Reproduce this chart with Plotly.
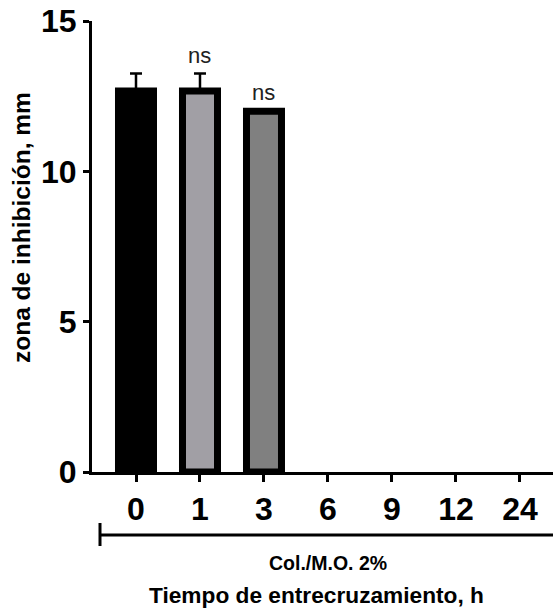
import plotly.graph_objects as go

# Crosslinking time groups and inhibition zone (mean, SD)
tiempos = ["0", "1", "3", "6", "9", "12", "24"]
zona_mm = [12.67, 12.67, 12.0, 0, 0, 0, 0]
desv_mm = [0.58, 0.58, 0.0, 0, 0, 0, 0]
significancia = ["", "ns", "ns", "", "", "", ""]
colores = ["#000000", "#a19fa5", "#808080", "#808080", "#808080", "#808080", "#808080"]

W, H = 553, 609
ML, MR, MT, MB = 92, 0, 21, 137
plot_w = W - ML - MR
plot_h = H - MT - MB

FONT = "Liberation Sans, Arial, sans-serif"

fig = go.Figure()
fig.add_trace(go.Bar(
    x=tiempos,
    y=zona_mm,
    width=0.547,
    marker=dict(
        color=colores,
        line=dict(color="black", width=[7 if v > 0 else 0 for v in zona_mm]),
    ),
    showlegend=False,
))

# upper SD whiskers, only where a spread exists
con_sd = [i for i, e in enumerate(desv_mm) if e > 0]
fig.add_trace(go.Scatter(
    x=[tiempos[i] for i in con_sd],
    y=[zona_mm[i] for i in con_sd],
    mode="markers", marker=dict(size=0.1, color="black"),
    error_y=dict(
        type="data", array=[desv_mm[i] for i in con_sd],
        arrayminus=[0] * len(con_sd), symmetric=False,
        color="black", thickness=2.5, width=6,
    ),
    showlegend=False, hoverinfo="skip",
))

# significance labels above bars (x given as category index)
for i, (v, e, s) in enumerate(zip(zona_mm, desv_mm, significancia)):
    if s:
        fig.add_annotation(
            x=i, y=v + e, text=s, showarrow=False, yanchor="bottom", yshift=4,
            font=dict(family=FONT, size=22, color="#222"),
        )

# helpers: pixel position -> paper fraction
def py(pix):
    return (H - MB - pix) / plot_h

def px(pix):
    return (pix - ML) / plot_w

# y-axis title
fig.add_annotation(
    xref="paper", yref="paper", x=px(21), y=py(228),
    text="zona de inhibición, mm", textangle=-90, showarrow=False,
    xanchor="center", yanchor="middle",
    font=dict(family=FONT, size=24.5, color="black", weight="bold"),
)

# group bracket below the categories
fig.add_shape(type="line", xref="paper", yref="paper",
              x0=px(100), x1=1.02, y0=py(535), y1=py(535),
              line=dict(color="black", width=3))
fig.add_shape(type="line", xref="paper", yref="paper",
              x0=px(100), x1=px(100), y0=py(523), y1=py(546),
              line=dict(color="black", width=3))

fig.add_annotation(
    xref="paper", yref="paper", x=px(328), y=py(563), text="Col./M.O. 2%",
    showarrow=False, xanchor="center", yanchor="middle",
    font=dict(family=FONT, size=19.5, color="black", weight="bold"),
)
fig.add_annotation(
    xref="paper", yref="paper", x=px(316), y=py(595), text="Tiempo de entrecruzamiento, h",
    showarrow=False, xanchor="center", yanchor="middle",
    font=dict(family=FONT, size=22.7, color="black", weight="bold"),
)

fig.update_layout(
    width=W, height=H,
    margin=dict(l=ML, r=MR, t=MT, b=MB, pad=0),
    plot_bgcolor="white", paper_bgcolor="white",
)
fig.update_xaxes(
    type="category", range=[-0.6875, 6.516],
    showline=True, linecolor="black", linewidth=3,
    ticks="outside", ticklen=7, tickwidth=3, tickcolor="black",
    showgrid=False, zeroline=False,
    tickfont=dict(family=FONT, size=32, color="black", weight="bold"),
)
fig.update_yaxes(
    range=[0, 15], tickvals=[0, 5, 10, 15],
    showline=True, linecolor="black", linewidth=3,
    ticks="outside", ticklen=6, tickwidth=3, tickcolor="black",
    showgrid=False, zeroline=False,
    tickfont=dict(family=FONT, size=32, color="black", weight="bold"),
)

fig.write_html("out.html")
